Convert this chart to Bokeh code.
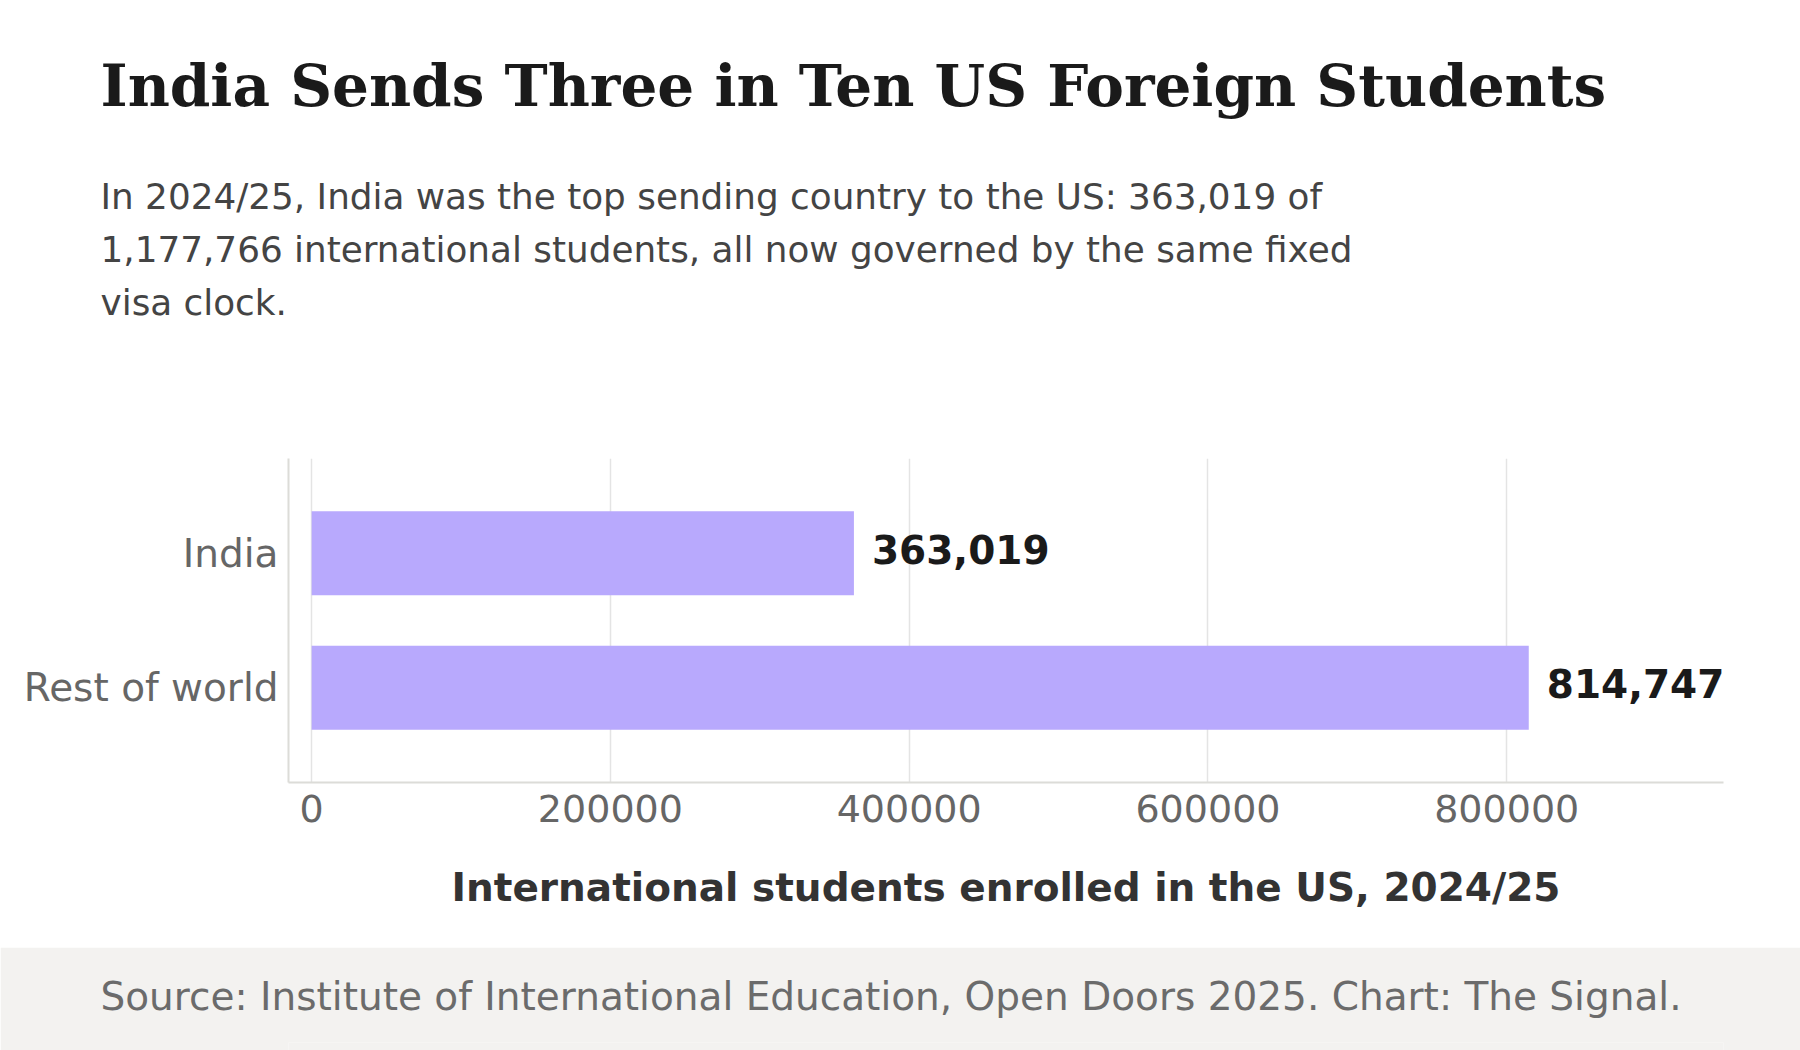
from bokeh.plotting import figure
from bokeh.models import Range1d, FactorRange, ColumnDataSource, Title, FixedTicker, BasicTickFormatter, LabelSet
from bokeh.layouts import column
from bokeh.embed import file_html
from bokeh.resources import INLINE
from bokeh.core.properties import value

# ---- data ----
categories = ["India", "Rest of world"]
students = [363019, 814747]
value_labels = ["363,019", "814,747"]
x_ticks = [0, 200000, 400000, 600000, 800000]

title_text = "India Sends Three in Ten US Foreign Students"
subtitle_lines = [
    "In 2024/25, India was the top sending country to the US: 363,019 of",
    "1,177,766 international students, all now governed by the same fixed",
    "visa clock.",
]
x_axis_label = "International students enrolled in the US, 2024/25"
source_text = "Source: Institute of International Education, Open Doors 2025. Chart: The Signal."

W = 1800
SANS = "DejaVu Sans"
SERIF = "DejaVu Serif"
FRAME_LEFT = 288
TEXT_LEFT = 100


def blank(h, fill):
    f = figure(width=W, height=h, x_range=Range1d(0, 1), y_range=Range1d(0, 1),
               output_backend="svg", toolbar_location=None, min_border=0,
               min_border_left=FRAME_LEFT, title_location=None,
               x_axis_location=None, y_axis_location=None,
               outline_line_color=None, background_fill_color=fill,
               border_fill_color=fill)
    f.grid.visible = False
    return f


# ---- header (titles stacked above an empty frame) ----
header = blank(440, "white")
for line in subtitle_lines[::-1]:
    header.add_layout(Title(text=line, align="left", offset=TEXT_LEFT - FRAME_LEFT,
                            text_font=SANS, text_font_style="normal",
                            text_font_size="35.8px", text_color="#444444",
                            standoff=10), "above")
header.add_layout(Title(text=title_text, align="left", offset=TEXT_LEFT - FRAME_LEFT,
                        text_font=SERIF, text_font_style="bold",
                        text_font_size="58px", text_color="#1a1a1a",
                        standoff=98), "above")

# ---- main chart ----
xmax = max(students)
p = figure(width=W, height=507,
           y_range=FactorRange(factors=categories[::-1], range_padding=0.205),
           x_range=Range1d(-0.019 * xmax, 1.16 * xmax),
           output_backend="svg", toolbar_location=None,
           min_border_left=FRAME_LEFT, min_border_right=77, min_border_top=18,
           min_border_bottom=165, outline_line_color=None)

src = ColumnDataSource(dict(cat=categories, val=students, lab=value_labels))
p.hbar(y="cat", left=0, right="val", height=0.625, source=src,
       fill_color="#b8a9fd", line_color=None)
p.add_layout(LabelSet(x="val", y="cat", text="lab", source=src, x_offset=18, y_offset=4,
                      text_baseline="middle", text_align="left",
                      text_font=value(SANS), text_font_style="bold",
                      text_font_size="39px", text_color="#1a1a1a"))

p.xaxis.ticker = FixedTicker(ticks=x_ticks)
p.xaxis.formatter = BasicTickFormatter(use_scientific=False)
p.xaxis.axis_label = x_axis_label
p.xaxis.axis_label_text_font = SANS
p.xaxis.axis_label_text_font_style = "bold"
p.xaxis.axis_label_text_font_size = "39px"
p.xaxis.axis_label_text_color = "#333333"
p.xaxis.axis_label_standoff = 40

p.axis.major_label_text_font = SANS
p.xaxis.major_label_text_font_size = "38px"
p.yaxis.major_label_text_font_size = "39px"
p.axis.major_label_text_color = "#666666"
p.axis.major_tick_line_color = None
p.axis.minor_tick_line_color = None
p.axis.axis_line_color = "#dcdcd8"
p.axis.axis_line_width = 2
p.xaxis.major_label_standoff = 6
p.yaxis.major_label_standoff = 4

p.ygrid.grid_line_color = None
p.xgrid.grid_line_color = "#e4e4e4"
p.xgrid.grid_line_width = 1.5

# ---- footer ----
footer = blank(103, "#f3f2f0")
footer.add_layout(Title(text=source_text, align="left", offset=TEXT_LEFT - FRAME_LEFT,
                        text_font=SANS, text_font_style="normal",
                        text_font_size="39px", text_color="#6b6b6b",
                        standoff=48), "above")

layout = column(header, p, footer, spacing=0)
open("out.html", "w").write(file_html(layout, INLINE))
